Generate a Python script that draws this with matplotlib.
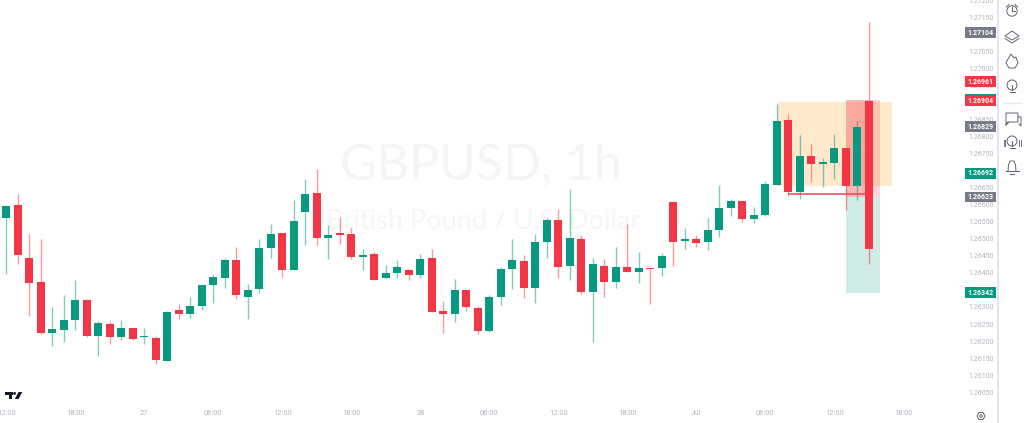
import matplotlib
matplotlib.use("Agg")
import matplotlib.pyplot as plt
import numpy as np
from matplotlib import patches

# OHLC, prices in 1e-5 units
opens = [126562, 126598, 126445, 126373, 126224, 126234, 126261, 126320, 126214, 126251, 126213, 126238, 126211, 126210, 126143, 126292,
         126278, 126302, 126364, 126386, 126439, 126330, 126352, 126472, 126517, 126409, 126578, 126633, 126503, 126513, 126513, 126448,
         126456, 126385, 126399, 126409, 126394, 126443, 126287, 126279, 126351, 126298, 126231, 126328, 126411, 126434, 126357, 126490,
         126556, 126419, 126500, 126344, 126421, 126373, 126418, 126403, 126415, 126414, 126608, 126493, 126500, 126490, 126527, 126589,
         126611, 126559, 126569, 126659, 126848, 126636, 126744, 126720, 126723, 126767, 126656, 126904]
highs = [126600, 126632, 126515, 126500, 126299, 126336, 126380, 126322, 126260, 126258, 126263, 126239, 126237, 126214, 126287, 126310,
         126328, 126365, 126396, 126444, 126477, 126368, 126498, 126542, 126518, 126614, 126676, 126706, 126541, 126565, 126535, 126470,
         126462, 126424, 126439, 126412, 126455, 126470, 126317, 126383, 126351, 126302, 126336, 126416, 126498, 126452, 126513, 126562,
         126586, 126645, 126512, 126444, 126442, 126475, 126544, 126460, 126415, 126459, 126608, 126532, 126512, 126561, 126659, 126617,
         126611, 126594, 126670, 126896, 126866, 126803, 126779, 126737, 126806, 126767, 126845, 127135]
lows = [126398, 126426, 126274, 126221, 126186, 126197, 126232, 126212, 126157, 126192, 126203, 126203, 126192, 126132, 126143, 126265,
        126268, 126291, 126311, 126355, 126323, 126265, 126341, 126443, 126388, 126409, 126483, 126481, 126440, 126484, 126440, 126407,
        126379, 126385, 126384, 126379, 126384, 126284, 126224, 126256, 126288, 126220, 126226, 126305, 126353, 126326, 126312, 126443,
        126385, 126380, 126337, 126198, 126330, 126355, 126403, 126369, 126310, 126391, 126419, 126469, 126475, 126466, 126505, 126566,
        126548, 126546, 126566, 126659, 126624, 126617, 126665, 126651, 126676, 126585, 126614, 126426]
closes = [126597, 126451, 126371, 126224, 126235, 126262, 126320, 126214, 126252, 126213, 126237, 126205, 126213, 126144, 126284, 126278,
          126302, 126364, 126389, 126437, 126334, 126351, 126472, 126515, 126409, 126553, 126630, 126501, 126512, 126512, 126446, 126452,
          126380, 126401, 126416, 126394, 126442, 126285, 126279, 126351, 126299, 126230, 126328, 126412, 126437, 126357, 126490, 126556,
          126417, 126501, 126344, 126426, 126373, 126418, 126403, 126415, 126410, 126450, 126491, 126499, 126489, 126527, 126589, 126611,
          126559, 126571, 126662, 126846, 126636, 126744, 126720, 126726, 126767, 126654, 126828, 126469]

time_pos = [0, 6, 12, 18, 24, 30, 36, 42, 48, 54, 60, 66, 72, 78]
time_labels = ["12:00", "18:00", "27", "06:00", "12:00", "18:00", "28", "06:00", "12:00", "18:00", "Jul", "06:00", "12:00", "18:00"]
price_ticks = [1.2605, 1.261, 1.2615, 1.262, 1.2625, 1.263, 1.2635, 1.264, 1.2645, 1.265, 1.2655, 1.266,
               1.2665, 1.267, 1.2675, 1.268, 1.2685, 1.269, 1.2695, 1.27, 1.2705, 1.271, 1.2715, 1.272]
tag_prices = [1.27104, 1.26961, 1.26904, 1.26829, 1.26692, 1.26623, 1.26342]
tag_colors = ["#787b86", "#f23645", "#f23645", "#787b86", "#089981", "#787b86", "#089981"]

# position tool
zone_top, zone_bottom = 1.26901, 1.26655
entry, stop, target = 1.26623, 1.26907, 1.26342
line_price = 1.26631

GREEN = "#089981"
RED = "#f23645"

plt.rcParams['font.family'] = ['Roboto', 'DejaVu Sans']

fig = plt.figure(figsize=(10.24, 4.23), dpi=100)
ax = fig.add_axes([0, 0, 998 / 1024, 1])
ax.set_xlim(-0.548, 86.23)
ax.set_ylim(1.259599, 1.271968)
for s in ax.spines.values():
    s.set_visible(False)

ax.text(0.482, 0.61, "GBPUSD, 1h", transform=ax.transAxes, family="Lato", fontsize=36,
        color="#f4f5f5", ha="center", va="center", zorder=0)
ax.text(0.484, 0.478, "British Pound / U.S. Dollar", transform=ax.transAxes, family="Lato", fontsize=19.5,
        color="#f5f6f6", ha="center", va="center", zorder=0)

# position tool zones, the red one is stronger up to the last candle
ax.add_patch(patches.Rectangle((67, zone_bottom), 10, zone_top - zone_bottom, facecolor="#ffe9cc", edgecolor="none", zorder=1))
ax.add_patch(patches.Rectangle((73, entry), 2, stop - entry, facecolor=RED, alpha=0.36, edgecolor="none", zorder=1.5))
ax.add_patch(patches.Rectangle((75, entry), 1, stop - entry, facecolor=RED, alpha=0.2, edgecolor="none", zorder=1.5))
ax.add_patch(patches.Rectangle((73, target), 3, entry - target, facecolor="#d1ebe6", edgecolor="none", zorder=1.5))

idx = np.arange(len(opens))
o = np.array(opens) / 1e5
h = np.array(highs) / 1e5
l = np.array(lows) / 1e5
c = np.array(closes) / 1e5
cols = [GREEN if c[i] >= o[i] else RED for i in idx]

ax.vlines(idx, l, h, colors=cols, linewidth=1, alpha=0.5, zorder=2)
body = np.maximum(np.abs(c - o), 0.00005)
ax.bar(idx, body, bottom=np.minimum(o, c), width=0.7, color=cols, linewidth=0, zorder=3)

ax.hlines(line_price, 68, 75, colors=RED, linewidth=1.2, alpha=0.85, zorder=4)

ax.set_yticks(price_ticks)
ax.set_yticklabels(["%.5f" % p for p in price_ticks])
ax.yaxis.tick_right()
ax.tick_params(axis='y', length=0, pad=-21, labelsize=5, labelcolor="#b2b5be")
ax.set_xticks(time_pos)
ax.set_xticklabels(time_labels)
ax.tick_params(axis='x', length=0, pad=-9.5, labelsize=5.4, labelcolor="#b2b5be")

# price tags
ybox = ax.get_yaxis_transform()
for p, col in zip(tag_prices, tag_colors):
    ax.text(0.982, p, "%.5f" % p, transform=ybox, ha="center", va="center", fontsize=5, color="white", fontweight="bold",
            zorder=6)
    ax.add_patch(patches.Rectangle((0.9665, p - 0.000155), 0.0310, 0.00031, transform=ybox, facecolor=col, edgecolor="none", zorder=5))
ax.add_patch(patches.Rectangle((0.9665, 1.26904 + 0.000155), 0.0310, 0.00006, transform=ybox, facecolor=GREEN, edgecolor="none", zorder=5))

# chrome drawn in pixel coordinates
ov = fig.add_axes([0, 0, 1, 1])
ov.set_xlim(0, 1024)
ov.set_ylim(423, 0)
ov.axis("off")
ov.patch.set_alpha(0)
ov.add_patch(patches.Rectangle((997, 0), 2, 423, facecolor="#e3e4ef", edgecolor="none"))
ov.plot([1003, 1021], [103, 103], color="#e8e8e8", lw=1)

# logo
DARK = "#131722"
ov.add_patch(patches.Rectangle((5, 392), 8, 2.6, facecolor=DARK, edgecolor="none"))
ov.add_patch(patches.Rectangle((8.5, 392), 3.6, 7, facecolor=DARK, edgecolor="none"))
ov.add_patch(patches.Circle((14.6, 393.4), 1.4, facecolor=DARK, edgecolor="none"))
ov.add_patch(patches.Polygon([[18.5, 392], [22.3, 392], [18.6, 399], [14.8, 399]], facecolor=DARK, edgecolor="none"))

# side icons
IC = "#60636e"
LW = 0.7
kw = dict(facecolor="none", edgecolor=IC, linewidth=LW)
ov.add_patch(patches.Circle((1012, 11), 5.2, **kw))
ov.plot([1012, 1012, 1015], [7.5, 11.5, 11.5], color=IC, lw=LW)
ov.plot([1006.5, 1009], [7, 4.5], color=IC, lw=LW)
ov.plot([1015, 1017.5], [4.5, 7], color=IC, lw=LW)
ov.add_patch(patches.Polygon([[1012, 31], [1019, 36], [1012, 40], [1005, 36]], **kw))
ov.plot([1005, 1012, 1019], [38.5, 43, 38.5], color=IC, lw=LW)
ov.add_patch(patches.Polygon([[1011, 54], [1014, 58], [1016, 57], [1018, 63], [1015, 68], [1009, 68], [1006, 63], [1008, 59]], closed=True, **kw))
ov.add_patch(patches.Circle((1012, 85), 5, **kw))
ov.plot([1009.5, 1014.5], [92.5, 92.5], color=IC, lw=LW)
ov.plot([1012, 1012], [85, 90], color=IC, lw=LW)
# chat
ov.plot([1008, 1006, 1006, 1018, 1018, 1009, 1006], [122, 125, 113, 113, 122, 122, 125], color=IC, lw=LW)
ov.plot([1018, 1021, 1021, 1019], [117, 117, 126, 124], color=IC, lw=LW)
ov.add_patch(patches.Circle((1012, 141), 5, **kw))
ov.plot([1009.5, 1014.5], [148.5, 148.5], color=IC, lw=LW)
ov.plot([1012, 1012], [141, 146], color=IC, lw=LW)
for xa in (1005, 1003.5, 1019, 1020.5):
    ov.plot([xa, xa], [140, 146], color=IC, lw=0.6)
ov.plot([1008, 1008.5, 1010, 1014, 1015.5, 1016], [171, 165, 161, 161, 165, 171], color=IC, lw=LW)
ov.plot([1005.5, 1018.5], [171.5, 171.5], color=IC, lw=LW)
ov.plot([1010, 1014], [174, 174], color=IC, lw=LW)
ov.add_patch(patches.RegularPolygon((981, 416), 6, radius=4, orientation=np.pi / 2, **kw))
ov.add_patch(patches.Circle((981, 416), 1.3, **kw))

fig.savefig("out.png", dpi=100)
